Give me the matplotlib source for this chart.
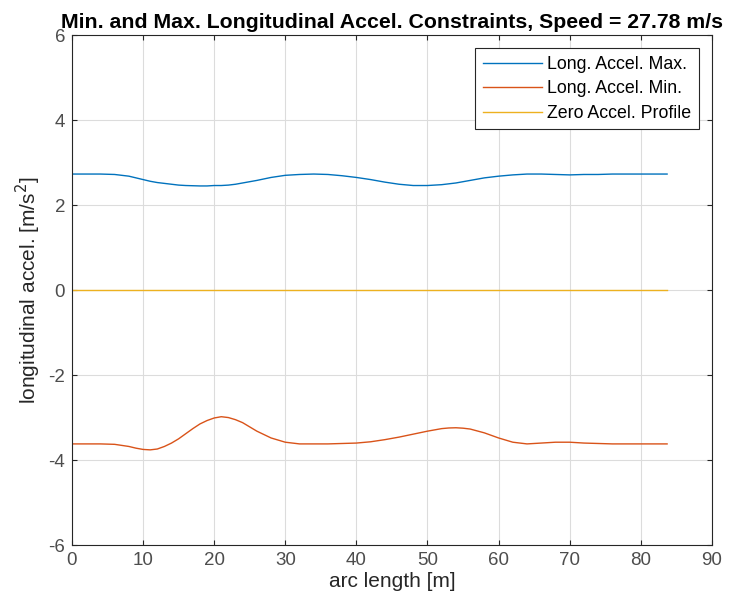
import numpy as np
import matplotlib
matplotlib.use('Agg')
import matplotlib.pyplot as plt

arc_len = [0, 2, 4, 6, 8, 9, 10, 11, 12, 13, 14, 15, 16, 17, 18, 19, 20, 21, 22, 23, 24, 25,
           26, 28, 30, 32, 34, 36, 38, 40, 42, 44, 46, 48, 50, 52, 53, 54, 55, 56, 58, 60,
           62, 64, 66, 68, 70, 72, 74, 76, 78, 80, 82, 83.7]
accel_max = [2.73, 2.73, 2.73, 2.72, 2.68, 2.64, 2.60, 2.56, 2.53, 2.51, 2.49, 2.47, 2.46,
             2.455, 2.45, 2.45, 2.46, 2.46, 2.47, 2.49, 2.52, 2.55, 2.58, 2.65, 2.70, 2.72,
             2.73, 2.72, 2.69, 2.65, 2.60, 2.54, 2.49, 2.46, 2.46, 2.48, 2.50, 2.52, 2.55,
             2.58, 2.64, 2.68, 2.71, 2.73, 2.73, 2.72, 2.71, 2.72, 2.72, 2.73, 2.73, 2.73,
             2.73, 2.73]
accel_min = [-3.62, -3.62, -3.62, -3.63, -3.68, -3.72, -3.75, -3.76, -3.74, -3.68, -3.60,
             -3.50, -3.38, -3.26, -3.15, -3.07, -3.01, -2.98, -3.00, -3.05, -3.12, -3.22,
             -3.32, -3.48, -3.58, -3.62, -3.62, -3.62, -3.61, -3.60, -3.57, -3.52, -3.46,
             -3.39, -3.32, -3.26, -3.245, -3.24, -3.25, -3.27, -3.36, -3.48, -3.58, -3.62,
             -3.60, -3.58, -3.58, -3.60, -3.61, -3.62, -3.62, -3.62, -3.62, -3.62]
accel_zero = [0.0] * len(arc_len)

plt.rcParams['font.family'] = ['Liberation Sans', 'DejaVu Sans']
plt.rcParams['axes.unicode_minus'] = False

fig = plt.figure(figsize=(7.33, 6.09), dpi=100)
ax = fig.add_axes([0.0982, 0.105, 0.873, 0.8374])

ax.plot(arc_len, accel_max, color=(0, 0.447, 0.741), lw=1.0, label='Long. Accel. Max.')
ax.plot(arc_len, accel_min, color=(0.85, 0.325, 0.098), lw=1.0, label='Long. Accel. Min.')
ax.plot(arc_len, accel_zero, color=(0.929, 0.694, 0.125), lw=1.0, label='Zero Accel. Profile')

ax.set_xlim(0, 90)
ax.set_ylim(-6, 6)
ax.set_xticks(np.arange(0, 91, 10))
ax.set_yticks(np.arange(-6, 7, 2))
ax.grid(True, color='#dcdcdc', lw=0.8)
ax.tick_params(direction='in', top=True, right=True, labelsize=13.5, color='#262626',
               labelcolor='#4d4d4d', pad=5)
for s in ax.spines.values():
    s.set_color('#262626')
    s.set_linewidth(0.8)

ax.set_xlabel('arc length [m]', fontsize=15, color='#262626', labelpad=2)
ax.set_ylabel('longitudinal accel. [m/s$^2$]', fontsize=15, color='#262626', labelpad=4)
ax.set_title('Min. and Max. Longitudinal Accel. Constraints, Speed = 27.78 m/s',
             fontsize=15.3, fontweight='bold', pad=5)

leg = ax.legend(loc='upper right', fontsize=12.8, fancybox=False, framealpha=1,
                edgecolor='#262626', borderaxespad=0.75, handlelength=3.3,
                handletextpad=0.3, labelspacing=0.42, borderpad=0.42)
leg.get_frame().set_linewidth(0.8)

fig.savefig('out.png', dpi=100)
